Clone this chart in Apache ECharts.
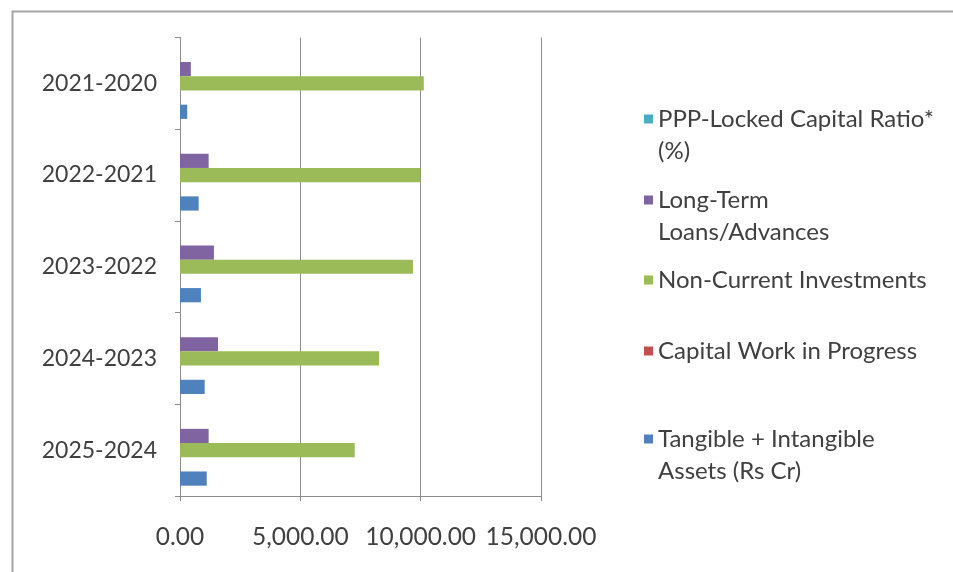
<!DOCTYPE html>
<html>
<head>
<meta charset="utf-8">
<script src="https://cdn.jsdelivr.net/npm/echarts@6/dist/echarts.min.js"></script>
<style>
  html, body { margin: 0; padding: 0; background: #ffffff; }
  #chart { width: 953px; height: 572px; }
</style>
</head>
<body>
<div id="chart"></div>
<script>
// Year pairs, top to bottom
const categories = ['2021-2020', '2022-2021', '2023-2022', '2024-2023', '2025-2024'];

// Values per year pair (Rs Cr / %)
const pppLockedRatio = [0, 0, 0, 0, 0];
const longTermLoans = [450, 1190, 1410, 1580, 1190];
const nonCurrentInvestments = [10130, 9990, 9680, 8270, 7260];
const capitalWip = [0, 0, 0, 0, 0];
const tangibleAssets = [300, 775, 870, 1025, 1110];

// Value axis ticks
const axisTicks = [0, 5000, 10000, 15000];

const seriesNames = [
  'PPP-Locked Capital Ratio*\n(%)',
  'Long-Term\nLoans/Advances',
  'Non-Current Investments',
  'Capital Work in Progress',
  'Tangible + Intangible\nAssets (Rs Cr)'
];
const seriesData = [pppLockedRatio, longTermLoans, nonCurrentInvestments, capitalWip, tangibleAssets];
const seriesColors = ['#4BACC6', '#8064A2', '#9BBB59', '#C0504D', '#4F81BD'];

const FONT = 'Lato';
const TEXT = '#404040';
const LINE_H = 32;

// One legend block per series so each can sit at its own height.
// Wrapped names get an empty leading line so the swatch lines up with the first line.
const legendTops = [71, 152, 264, 335, 391];
const legends = seriesNames.map((name, i) => {
  const twoLine = name.indexOf('\n') >= 0;
  return {
    data: [name],
    left: 644,
    top: legendTops[i],
    padding: 0,
    itemWidth: 9,
    itemHeight: 9,
    itemGap: 0,
    icon: 'rect',
    selectedMode: false,
    formatter: n => (twoLine ? '\n' + n : n),
    textStyle: {
      fontFamily: FONT,
      fontSize: 24,
      color: TEXT,
      lineHeight: LINE_H
    }
  };
});

const chart = echarts.init(document.getElementById('chart'), null, { renderer: 'canvas' });

chart.setOption({
  animation: false,
  backgroundColor: '#ffffff',
  graphic: [{
    type: 'rect',
    left: 10,
    top: 9,
    shape: { width: 980, height: 600 },
    style: { fill: 'none', stroke: '#a6a6a6', lineWidth: 2 },
    silent: true
  }],
  legend: legends,
  grid: { left: 180, right: 412, top: 37.5, bottom: 76, containLabel: false },
  xAxis: {
    type: 'value',
    min: axisTicks[0],
    max: axisTicks[axisTicks.length - 1],
    interval: axisTicks[1] - axisTicks[0],
    axisLine: { show: true, lineStyle: { color: '#8c8c8c', width: 1 } },
    axisTick: { show: true, length: 5, lineStyle: { color: '#8c8c8c' } },
    splitLine: { show: true, lineStyle: { color: '#8c8c8c', width: 1 } },
    axisLabel: {
      margin: 29,
      fontFamily: FONT,
      fontSize: 24.5,
      color: TEXT,
      formatter: v => v.toLocaleString('en-US', { minimumFractionDigits: 2, maximumFractionDigits: 2 })
    }
  },
  yAxis: {
    type: 'category',
    data: categories,
    inverse: true,
    axisLine: { show: true, lineStyle: { color: '#8c8c8c', width: 1 } },
    axisTick: { show: true, length: 5, alignWithLabel: false, lineStyle: { color: '#8c8c8c' } },
    axisLabel: {
      margin: 23,
      fontFamily: FONT,
      fontSize: 23,
      color: TEXT
    }
  },
  series: seriesNames.map((name, i) => ({
    type: 'bar',
    name: name,
    data: seriesData[i],
    barGap: '0%',
    barCategoryGap: '22.5%',
    itemStyle: { color: seriesColors[i] }
  }))
});
</script>
</body>
</html>
